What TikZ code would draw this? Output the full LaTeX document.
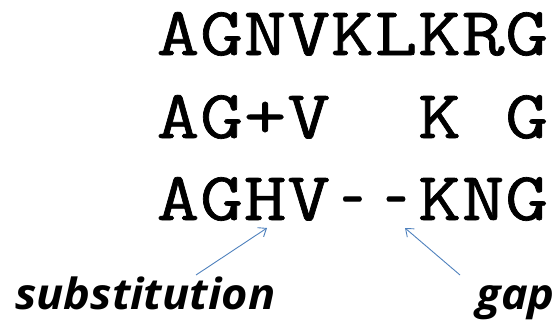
\documentclass[tikz,border=0pt]{standalone}
\usepackage{fontspec}
\usepackage{graphicx}
\usetikzlibrary{arrows.meta}
\newfontfamily\seqfont[FakeStretch=1.21,FakeBold=1]{Latin Modern Mono}
\newfontfamily\labfont[FakeStretch=1.05]{Open Sans}
\definecolor{arrblue}{HTML}{4F81BD}
\newcommand\cellc[1]{\makebox[43.6pt]{#1}}
\newcommand\gapc{\makebox[43.6pt]{\scalebox{0.55}[1]{-}}}
\tikzset{
  seq/.style={anchor=base west, inner sep=0pt, font=\seqfont\fontsize{68.7}{70}\selectfont},
  lab/.style={inner sep=0pt, font=\labfont\bfseries\itshape\fontsize{43}{45}\selectfont},
  arr/.style={draw=arrblue, line width=0.9pt, -{Straight Barb[length=7pt,width=11pt,line width=0.9pt]}}
}
\begin{document}
\begin{tikzpicture}[x=1pt,y=-1pt]
\useasboundingbox (0,0) rectangle (557,324);
\node[seq] (r1) at (156,55) {\cellc{A}\cellc{G}\cellc{N}\cellc{V}\cellc{K}\cellc{L}\cellc{K}\cellc{R}\cellc{G}};
\node[seq] (r2) at (156,138) {\cellc{A}\cellc{G}\cellc{+}\cellc{V}\cellc{}\cellc{}\cellc{K}\cellc{}\cellc{G}};
\node[seq] (r3) at (156,220) {\cellc{A}\cellc{G}\cellc{H}\cellc{V}\gapc\gapc\cellc{K}\cellc{N}\cellc{G}};
\node[lab, anchor=base west] (sub) at (15,309) {substitution};
\node[lab, anchor=base east] (gap) at (555,309) {gap};
\coordinate (subtail) at (196,275);
\coordinate (subhead) at (267,228);
\coordinate (gaptail) at (460,275);
\coordinate (gaphead) at (405,228);
\draw[arr] (subtail) -- (subhead);
\draw[arr] (gaptail) -- (gaphead);
\end{tikzpicture}
\end{document}
